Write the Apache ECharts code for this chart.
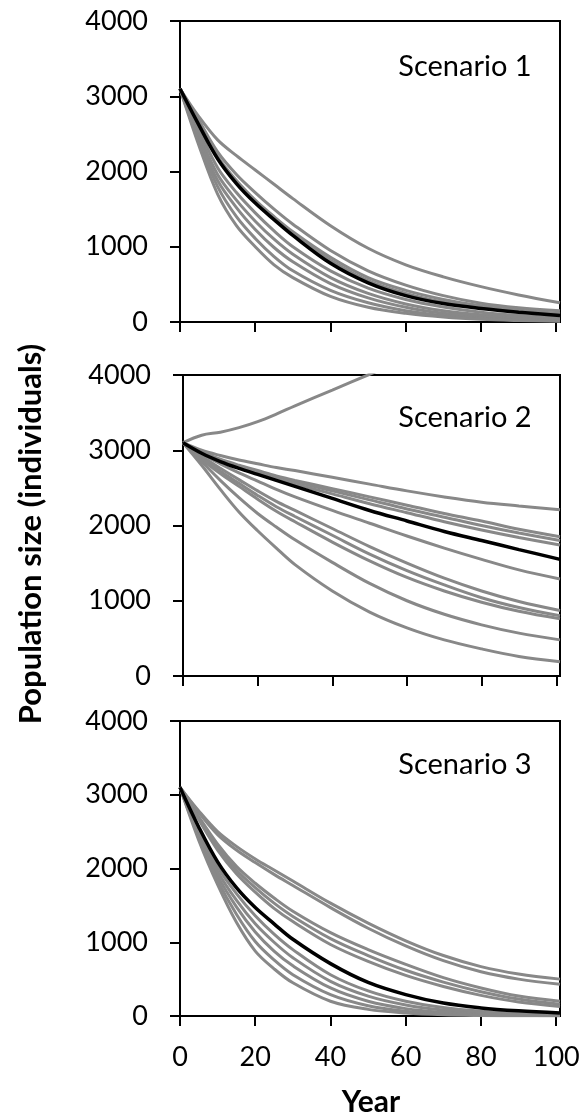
<!DOCTYPE html>
<html>
<head>
<meta charset="utf-8">
<script src="https://cdn.jsdelivr.net/npm/echarts@6/dist/echarts.min.js"></script>
<style>
html,body{margin:0;padding:0;background:#fff;}
#c{width:585px;height:1117px;}
</style>
</head>
<body>
<div id="c"></div>
<script>
// ---- data ----
const years = [0, 5, 10, 15, 20, 25, 30, 40, 50, 60, 70, 80, 90, 101];
const yTicks = [0, 1000, 2000, 3000, 4000];
const xTicks = [0, 20, 40, 60, 80, 100];
const scenarioNames = ['Scenario 1', 'Scenario 2', 'Scenario 3'];
const yTitle = 'Population size (individuals)';
const xTitle = 'Year';

// Scenario 1
const s1Mean = [3100, 2620, 2170, 1840, 1580, 1360, 1150, 780, 520, 350, 245, 180, 130, 85];
const s1Runs = [
  [3100, 2730, 2420, 2210, 2020, 1830, 1640, 1280, 980, 760, 600, 470, 360, 255],
  [3100, 2680, 2260, 1960, 1720, 1500, 1300, 950, 680, 490, 350, 250, 190, 150],
  [3100, 2650, 2200, 1880, 1620, 1400, 1200, 860, 590, 420, 300, 215, 160, 115],
  [3100, 2640, 2180, 1860, 1600, 1380, 1170, 820, 550, 380, 265, 190, 135, 100],
  [3100, 2560, 2050, 1720, 1450, 1210, 1000, 680, 450, 300, 200, 130, 85, 55],
  [3100, 2500, 1960, 1620, 1340, 1100, 900, 590, 380, 240, 150, 95, 60, 38],
  [3100, 2450, 1880, 1520, 1230, 990, 800, 510, 320, 195, 115, 70, 42, 25],
  [3100, 2400, 1800, 1400, 1110, 870, 680, 420, 255, 150, 85, 50, 30, 18],
  [3100, 2350, 1700, 1280, 1000, 760, 590, 340, 195, 115, 65, 35, 20, 10]
];

// Scenario 2
const s2Mean = [3100, 2960, 2850, 2760, 2680, 2600, 2520, 2360, 2200, 2060, 1920, 1800, 1680, 1550];
const s2Runs = [
  [3100, 3200, 3240, 3300, 3380, 3480, 3590, 3800, 4010, 4220, 4440, 4660, 4880, 5120],
  [3100, 3000, 2930, 2870, 2820, 2770, 2730, 2640, 2550, 2460, 2380, 2310, 2260, 2210],
  [3100, 2980, 2880, 2800, 2730, 2660, 2600, 2490, 2380, 2270, 2160, 2060, 1950, 1850],
  [3100, 2970, 2870, 2790, 2720, 2650, 2580, 2460, 2340, 2220, 2110, 2000, 1900, 1800],
  [3100, 2960, 2860, 2780, 2700, 2620, 2550, 2420, 2290, 2170, 2050, 1940, 1840, 1740],
  [3100, 2950, 2820, 2700, 2590, 2480, 2380, 2200, 2030, 1860, 1700, 1550, 1410, 1290],
  [3100, 2920, 2760, 2610, 2460, 2320, 2200, 1960, 1720, 1500, 1300, 1130, 990, 870],
  [3100, 2900, 2720, 2560, 2400, 2250, 2120, 1870, 1620, 1400, 1210, 1040, 910, 800],
  [3100, 2880, 2690, 2520, 2350, 2190, 2050, 1780, 1530, 1310, 1130, 980, 860, 760],
  [3100, 2850, 2600, 2370, 2160, 1980, 1810, 1510, 1230, 1000, 820, 680, 570, 480],
  [3100, 2800, 2480, 2180, 1930, 1700, 1480, 1130, 850, 640, 480, 360, 260, 190]
];

// Scenario 3
const s3Mean = [3100, 2560, 2090, 1740, 1470, 1250, 1040, 710, 455, 290, 175, 110, 70, 40];
const s3Runs = [
  [3100, 2780, 2500, 2300, 2130, 1980, 1830, 1530, 1260, 1020, 820, 670, 570, 500],
  [3100, 2760, 2460, 2250, 2080, 1920, 1770, 1470, 1190, 950, 750, 600, 500, 430],
  [3100, 2700, 2330, 2030, 1800, 1600, 1420, 1130, 900, 700, 520, 380, 270, 200],
  [3100, 2680, 2290, 1980, 1740, 1530, 1350, 1050, 820, 620, 460, 330, 230, 160],
  [3100, 2660, 2250, 1930, 1680, 1460, 1280, 970, 740, 550, 400, 280, 190, 130],
  [3100, 2520, 2020, 1660, 1360, 1110, 900, 560, 340, 200, 115, 65, 38, 20],
  [3100, 2490, 1960, 1570, 1250, 1000, 790, 470, 270, 150, 80, 45, 25, 12],
  [3100, 2450, 1900, 1480, 1140, 880, 680, 380, 200, 100, 50, 25, 13, 7],
  [3100, 2420, 1840, 1380, 1010, 760, 560, 290, 140, 65, 30, 14, 7, 4],
  [3100, 2380, 1780, 1270, 880, 640, 450, 200, 90, 40, 16, 7, 3, 2]
];

const panels = [
  { mean: s1Mean, runs: s1Runs },
  { mean: s2Mean, runs: s2Runs },
  { mean: s3Mean, runs: s3Runs }
];

// ---- layout / style ----
const FONT = 'Lato, "Open Sans", sans-serif';
const gridBoxes = [
  { left: 180, top: 21, width: 380, height: 301 },
  { left: 183, top: 375, width: 377, height: 301 },
  { left: 180, top: 721, width: 380, height: 295 }
];
const labelPos = [[465, 67], [465, 418], [465, 765]];

const pair = (arr) => years.map((t, i) => [t, arr[i]]);

const grids = gridBoxes.map(b => Object.assign({
  show: true, borderColor: '#000', borderWidth: 2, backgroundColor: 'transparent'
}, b));

const xAxes = gridBoxes.map((b, i) => ({
  type: 'value', gridIndex: i, min: 0, max: 101,
  axisLine: { show: true, onZero: false, lineStyle: { color: '#000', width: 2 } },
  axisTick: { show: true, inside: false, length: 10, customValues: xTicks, lineStyle: { color: '#000', width: 2 } },
  axisLabel: { show: i === 2, customValues: xTicks, color: '#000', fontSize: 27, fontFamily: FONT, margin: 28 },
  splitLine: { show: false }
}));

const yAxes = gridBoxes.map((b, i) => ({
  type: 'value', gridIndex: i, min: 0, max: 4000, interval: 1000,
  axisLine: { show: true, onZero: false, lineStyle: { color: '#000', width: 2 } },
  axisTick: { show: true, inside: false, length: 10, lineStyle: { color: '#000', width: 2 } },
  axisLabel: { show: true, color: '#000', fontSize: 27, fontFamily: FONT, margin: 32,
               customValues: yTicks, formatter: v => String(v) },
  splitLine: { show: false }
}));

const series = [];
panels.forEach((p, i) => {
  p.runs.forEach(r => {
    series.push({
      type: 'line', xAxisIndex: i, yAxisIndex: i, data: pair(r),
      smooth: 0.35, symbol: 'none', silent: true, clip: true,
      lineStyle: { color: '#888888', width: 3 }, z: 2
    });
  });
  series.push({
    type: 'line', xAxisIndex: i, yAxisIndex: i, data: pair(p.mean),
    smooth: 0.35, symbol: 'none', silent: true, clip: true,
    lineStyle: { color: '#000', width: 3.5 }, z: 3
  });
});

const graphics = scenarioNames.map((name, i) => ({
  type: 'text', x: labelPos[i][0], y: labelPos[i][1],
  style: { text: name, fill: '#000', fontSize: 29, fontFamily: FONT,
           align: 'center', verticalAlign: 'middle' }
}));
graphics.push({
  type: 'text', x: 31, y: 534, rotation: Math.PI / 2,
  style: { text: yTitle, fill: '#000', fontSize: 31, fontWeight: 'bold', fontFamily: FONT,
           align: 'center', verticalAlign: 'middle' }
});
graphics.push({
  type: 'text', x: 371, y: 1102,
  style: { text: xTitle, fill: '#000', fontSize: 30, fontWeight: 'bold', fontFamily: FONT,
           align: 'center', verticalAlign: 'middle' }
});

const chart = echarts.init(document.getElementById('c'), null, { renderer: 'canvas' });
chart.setOption({
  animation: false,
  backgroundColor: '#fff',
  grid: grids,
  xAxis: xAxes,
  yAxis: yAxes,
  series: series,
  graphic: graphics
});
</script>
</body>
</html>
